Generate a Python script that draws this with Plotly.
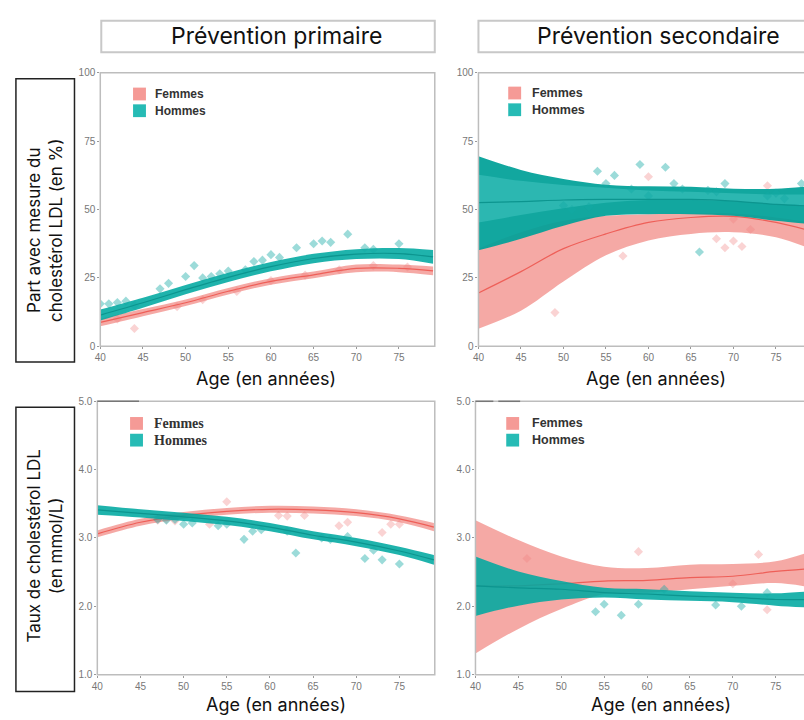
import plotly.graph_objects as go

# ---------------- data ----------------
AGES = [40, 45, 50, 55, 60, 65, 70, 75, 79]
X_TICKS = [40, 45, 50, 55, 60, 65, 70, 75]
Y_TICKS_PCT = [0, 25, 50, 75, 100]
Y_TICKS_LDL = [1.0, 2.0, 3.0, 4.0, 5.0]
SEXES = ["Femmes", "Hommes"]
HEADERS = ["Prévention primaire", "Prévention secondaire"]
YTITLES = ["Part avec mesure du<br>cholestérol LDL (en %)", "Taux de cholestérol LDL<br>(en mmol/L)"]
XTITLE = "Age (en années)"

# Panel 1 : prévention primaire, part avec mesure (%)
p1_f_mean = [8.7, 12.3, 15.9, 20.1, 23.7, 26.1, 28.5, 28.5, 27.6]
p1_f_lo = [7.3, 11.0, 14.7, 18.9, 22.5, 24.9, 27.1, 27.1, 26.0]
p1_f_hi = [10.1, 13.6, 17.1, 21.3, 24.9, 27.3, 29.9, 29.9, 29.2]
p1_h_mean = [11.4, 15.9, 20.7, 25.2, 29.1, 32.1, 33.7, 33.9, 32.7]
p1_h_lo = [9.4, 14.1, 19.0, 23.5, 27.4, 30.4, 31.9, 31.9, 30.2]
p1_h_hi = [13.4, 17.7, 22.4, 26.9, 30.8, 33.8, 35.5, 35.9, 35.2]
p1_f_pt_age = [42, 44, 49, 52, 56, 60, 64, 68, 72, 76]
p1_f_pt_val = [10.0, 6.5, 14.5, 17.0, 20.0, 24.0, 26.0, 28.0, 29.5, 29.0]
p1_h_pt_age = [40, 41, 42, 43, 44, 47, 48, 50, 51, 52, 53, 54, 55, 57, 58, 59, 60, 61, 63, 65, 66, 67, 69, 71, 72, 75]
p1_h_pt_val = [15.5, 15.5, 16.0, 16.5, 15.0, 21.0, 23.0, 25.5, 29.5, 25.0, 25.5, 26.5, 27.5, 28.0, 31.0, 31.5, 33.5, 32.5, 36.0, 37.5, 38.5, 38.0, 41.0, 36.0, 35.5, 37.5]

# Panel 2 : prévention secondaire, part avec mesure (%)
p2_f_mean = [19.5, 27.3, 35.7, 41.1, 45.3, 47.1, 47.5, 45.3, 42.3]
p2_f_lo = [6.4, 13.0, 23.7, 33.3, 38.7, 41.1, 41.7, 39.9, 35.7]
p2_f_hi = [35.7, 41.7, 45.9, 47.7, 48.3, 48.6, 48.6, 47.1, 45.3]
p2_h_mean = [52.5, 52.9, 53.5, 53.7, 53.7, 53.7, 53.1, 51.9, 51.3]
p2_h_lo = [35.1, 39.3, 44.1, 47.7, 48.3, 48.3, 47.7, 45.9, 44.7]
p2_h_hi = [69.5, 64.5, 61.2, 59.1, 58.5, 58.3, 57.6, 57.6, 58.5]
p2_h_inner_lo = [45.3, 48.0, 50.5, 52.5, 53.5, 53.5, 53.0, 52.0, 51.5]
p2_h_inner_hi = [62.7, 60.5, 59.0, 58.0, 57.0, 56.5, 56.0, 55.5, 55.5]
p2_f_pt_age = [49, 57, 60, 68, 69, 70, 70, 71, 72, 74]
p2_f_pt_val = [12.3, 33.0, 62.0, 39.3, 36.0, 38.5, 46.5, 36.5, 42.7, 58.7]
p2_h_pt_age = [50, 51, 53, 54, 55, 56, 58, 59, 60, 62, 63, 64, 66, 67, 68, 69, 74, 75, 76, 78]
p2_h_pt_val = [51.5, 50.0, 51.0, 64.0, 59.5, 62.5, 57.5, 66.5, 55.0, 65.5, 59.5, 57.5, 34.5, 57.0, 56.5, 59.5, 55.0, 56.0, 54.0, 59.5]

# Panel 3 : prévention primaire, taux LDL (mmol/L)
p3_f_mean = [3.06, 3.23, 3.33, 3.39, 3.42, 3.41, 3.37, 3.28, 3.16]
p3_f_lo = [3.01, 3.18, 3.28, 3.34, 3.37, 3.36, 3.32, 3.23, 3.10]
p3_f_hi = [3.11, 3.28, 3.38, 3.44, 3.47, 3.46, 3.42, 3.33, 3.22]
p3_h_mean = [3.41, 3.36, 3.31, 3.25, 3.16, 3.04, 2.94, 2.81, 2.68]
p3_h_lo = [3.34, 3.30, 3.25, 3.19, 3.10, 2.98, 2.88, 2.75, 2.61]
p3_h_hi = [3.48, 3.42, 3.37, 3.31, 3.22, 3.10, 3.00, 2.87, 2.75]
p3_f_pt_age = [47, 48, 49, 53, 55, 61, 62, 64, 68, 69, 73, 74, 75]
p3_f_pt_val = [3.26, 3.27, 3.25, 3.20, 3.53, 3.33, 3.32, 3.33, 3.18, 3.23, 3.08, 3.20, 3.20]
p3_h_pt_age = [47, 48, 49, 50, 51, 54, 55, 57, 58, 59, 62, 63, 66, 67, 69, 71, 72, 73, 75]
p3_h_pt_val = [3.27, 3.26, 3.27, 3.20, 3.22, 3.18, 3.20, 2.98, 3.10, 3.12, 3.10, 2.78, 3.00, 2.98, 3.02, 2.70, 2.82, 2.68, 2.62]

# Panel 4 : prévention secondaire, taux LDL (mmol/L)
p4_f_mean = [2.30, 2.30, 2.33, 2.37, 2.38, 2.42, 2.44, 2.51, 2.55]
p4_f_lo = [1.31, 1.67, 1.96, 2.18, 2.20, 2.25, 2.30, 2.34, 2.28]
p4_f_hi = [3.26, 2.97, 2.73, 2.58, 2.56, 2.61, 2.62, 2.66, 2.80]
p4_h_mean = [2.30, 2.27, 2.25, 2.20, 2.18, 2.15, 2.13, 2.10, 2.10]
p4_h_lo = [1.86, 2.01, 2.10, 2.13, 2.10, 2.08, 2.06, 2.01, 1.98]
p4_h_hi = [2.73, 2.51, 2.37, 2.27, 2.25, 2.22, 2.20, 2.19, 2.22]
p4_f_pt_age = [46, 59, 70, 73, 74]
p4_f_pt_val = [2.70, 2.80, 2.33, 2.76, 1.95]
p4_h_pt_age = [54, 55, 57, 59, 62, 68, 71, 74]
p4_h_pt_val = [1.92, 2.03, 1.87, 2.03, 2.25, 2.02, 2.00, 2.20]

# ---------------- styling ----------------
W, H = 804, 720
def px(x):
    return x / W
def py(y):
    return 1 - y / H

PINK_FILL = "rgba(242,140,135,0.75)"
TEAL_FILL = "rgba(0,168,160,0.88)"
TEAL_FILL_DARK = "rgba(0,160,152,0.93)"
TEAL_INNER = "rgba(70,200,196,0.5)"
PINK_LINE = "#EE5F58"
TEAL_LINE = "#0C958F"
PINK_PT = "rgba(240,130,128,0.35)"
TEAL_PT = "rgba(20,170,165,0.42)"

panels = [
    dict(ax="", f=(p1_f_mean, p1_f_lo, p1_f_hi, p1_f_pt_age, p1_f_pt_val),
         h=(p1_h_mean, p1_h_lo, p1_h_hi, p1_h_pt_age, p1_h_pt_val), inner=None,
         xdom=[px(95), px(432)], ydom=[py(346), py(68)], xr=[40, 79.2], yr=[0, 100],
         yt=Y_TICKS_PCT, yfmt="d"),
    dict(ax="2", f=(p2_f_mean, p2_f_lo, p2_f_hi, p2_f_pt_age, p2_f_pt_val),
         h=(p2_h_mean, p2_h_lo, p2_h_hi, p2_h_pt_age, p2_h_pt_val), inner=(p2_h_inner_lo, p2_h_inner_hi),
         xdom=[px(476), 1.0], ydom=[py(346), py(68)], xr=[40, 78.3], yr=[0, 100],
         yt=Y_TICKS_PCT, yfmt="d"),
    dict(ax="3", f=(p3_f_mean, p3_f_lo, p3_f_hi, p3_f_pt_age, p3_f_pt_val),
         h=(p3_h_mean, p3_h_lo, p3_h_hi, p3_h_pt_age, p3_h_pt_val), inner=None,
         xdom=[px(92), px(432)], ydom=[py(680), py(402)], xr=[40, 79.1], yr=[1, 5],
         yt=Y_TICKS_LDL, yfmt=".1f"),
    dict(ax="4", f=(p4_f_mean, p4_f_lo, p4_f_hi, p4_f_pt_age, p4_f_pt_val),
         h=(p4_h_mean, p4_h_lo, p4_h_hi, p4_h_pt_age, p4_h_pt_val), inner=None,
         xdom=[px(473), 1.0], ydom=[py(680), py(402)], xr=[40, 78.3], yr=[1, 5],
         yt=Y_TICKS_LDL, yfmt=".1f"),
]

SPL = dict(shape="spline", smoothing=1.0)
fig = go.Figure()
layout = {}
for p in panels:
    xa, ya = "x" + p["ax"], "y" + p["ax"]
    for key, line, ptcol in (("f", PINK_LINE, PINK_PT), ("h", TEAL_LINE, TEAL_PT)):
        mean, lo, hi, pa, pv = p[key]
        if key == "f":
            fill = PINK_FILL
        else:
            fill = TEAL_FILL_DARK if p["inner"] else TEAL_FILL
        fig.add_trace(go.Scatter(x=AGES, y=lo, mode="lines", line=dict(width=0, **SPL),
                                 xaxis=xa, yaxis=ya, hoverinfo="skip"))
        fig.add_trace(go.Scatter(x=AGES, y=hi, mode="lines", line=dict(width=0, **SPL),
                                 fill="tonexty", fillcolor=fill, xaxis=xa, yaxis=ya, hoverinfo="skip"))
        if key == "h" and p["inner"]:
            ilo, ihi = p["inner"]
            fig.add_trace(go.Scatter(x=AGES, y=ilo, mode="lines", line=dict(width=0, **SPL),
                                     xaxis=xa, yaxis=ya, hoverinfo="skip"))
            fig.add_trace(go.Scatter(x=AGES, y=ihi, mode="lines", line=dict(width=0, **SPL),
                                     fill="tonexty", fillcolor=TEAL_INNER, xaxis=xa, yaxis=ya, hoverinfo="skip"))
        fig.add_trace(go.Scatter(x=pa, y=pv, mode="markers",
                                 marker=dict(symbol="diamond", size=7, color=ptcol, line=dict(width=0)),
                                 xaxis=xa, yaxis=ya))
        fig.add_trace(go.Scatter(x=AGES, y=mean, mode="lines", line=dict(color=line, width=1.2, **SPL),
                                 xaxis=xa, yaxis=ya))
    axcommon = dict(showgrid=False, zeroline=False, showline=False, ticks="outside", ticklen=2,
                    tickcolor="#999", tickfont=dict(family="Liberation Sans", size=10, color="#777"))
    layout["xaxis" + p["ax"]] = dict(domain=p["xdom"], range=p["xr"], anchor=ya, tickvals=X_TICKS, **axcommon)
    layout["yaxis" + p["ax"]] = dict(domain=p["ydom"], range=p["yr"], anchor=xa, tickvals=p["yt"],
                                     tickformat=p["yfmt"], **axcommon)

fig.update_layout(**layout)

shapes = []
annotations = []
BORDER = "#bdbdbd"
# panel borders
for (x0, y0, x1, y1) in [(95, 68, 432, 346), (476, 68, 830, 346), (92, 402, 432, 680), (473, 402, 830, 680)]:
    shapes.append(dict(type="rect", xref="paper", yref="paper", x0=px(x0), x1=px(x1), y0=py(y1), y1=py(y0),
                       line=dict(color=BORDER, width=1.5), layer="above"))
# dark fragments on top edge of LDL panels
for (x0, x1) in [(92, 134), (473, 491), (496, 518)]:
    shapes.append(dict(type="line", xref="paper", yref="paper", x0=px(x0), x1=px(x1), y0=py(402), y1=py(402),
                       line=dict(color="#777", width=1.5), layer="above"))

# header boxes
for (x0, x1, cx), txt in zip([(96, 432, 273), (476, 830, 657)], HEADERS):
    shapes.append(dict(type="rect", xref="paper", yref="paper", x0=px(x0), x1=px(x1), y0=py(47), y1=py(15),
                       line=dict(color="#c8c8c8", width=2)))
    annotations.append(dict(text=txt, x=px(cx), y=py(31), xref="paper", yref="paper", showarrow=False,
                            xanchor="center", yanchor="middle", font=dict(family="Inter", size=23, color="#111")))

# y-title boxes
for (y0, y1, cy), txt in zip([(74, 362, 228), (408, 697, 549)], YTITLES):
    shapes.append(dict(type="rect", xref="paper", yref="paper", x0=px(10), x1=px(69), y0=py(y1), y1=py(y0),
                       line=dict(color="#222", width=1.5)))
    annotations.append(dict(text=txt, x=px(39), y=py(cy), xref="paper", yref="paper", showarrow=False,
                            textangle=-90, xanchor="center", yanchor="middle",
                            font=dict(family="Inter", size=17, color="#111")))

# x titles
for cx, cy in [(262, 379), (655, 379), (272, 710), (660, 710)]:
    annotations.append(dict(text=XTITLE, x=px(cx), y=py(cy), xref="paper", yref="paper", showarrow=False,
                            xanchor="center", yanchor="middle", font=dict(family="Inter", size=18, color="#111")))

# in-panel legends
legend_spots = [
    (128, 83, 148, "Liberation Sans", 12),
    (506, 82, 528, "Liberation Sans", 12.5),
    (125, 418, 147, "Liberation Serif", 14),
    (504, 418, 528, "Liberation Sans", 12.5),
]
for (kx, ky, tx, fam, fs) in legend_spots:
    for i, (sex, col) in enumerate(zip(SEXES, ["rgba(242,120,115,0.75)", "rgba(0,175,168,0.85)"])):
        y0 = ky + i * 17
        shapes.append(dict(type="rect", xref="paper", yref="paper", x0=px(kx), x1=px(kx + 13),
                           y0=py(y0 + 13), y1=py(y0), fillcolor=col, line=dict(width=0)))
        annotations.append(dict(text="<b>" + sex + "</b>", x=px(tx), y=py(y0 + 6.5), xref="paper", yref="paper",
                                showarrow=False, xanchor="left", yanchor="middle",
                                font=dict(family=fam, size=fs, color="#333")))

fig.update_layout(width=W, height=H, margin=dict(l=0, r=0, t=0, b=0), showlegend=False,
                  plot_bgcolor="white", paper_bgcolor="white", shapes=shapes, annotations=annotations)

fig.write_html("out.html", config={"displayModeBar": False},
               post_script="document.body.style.margin='0';document.body.style.overflow='hidden';")
